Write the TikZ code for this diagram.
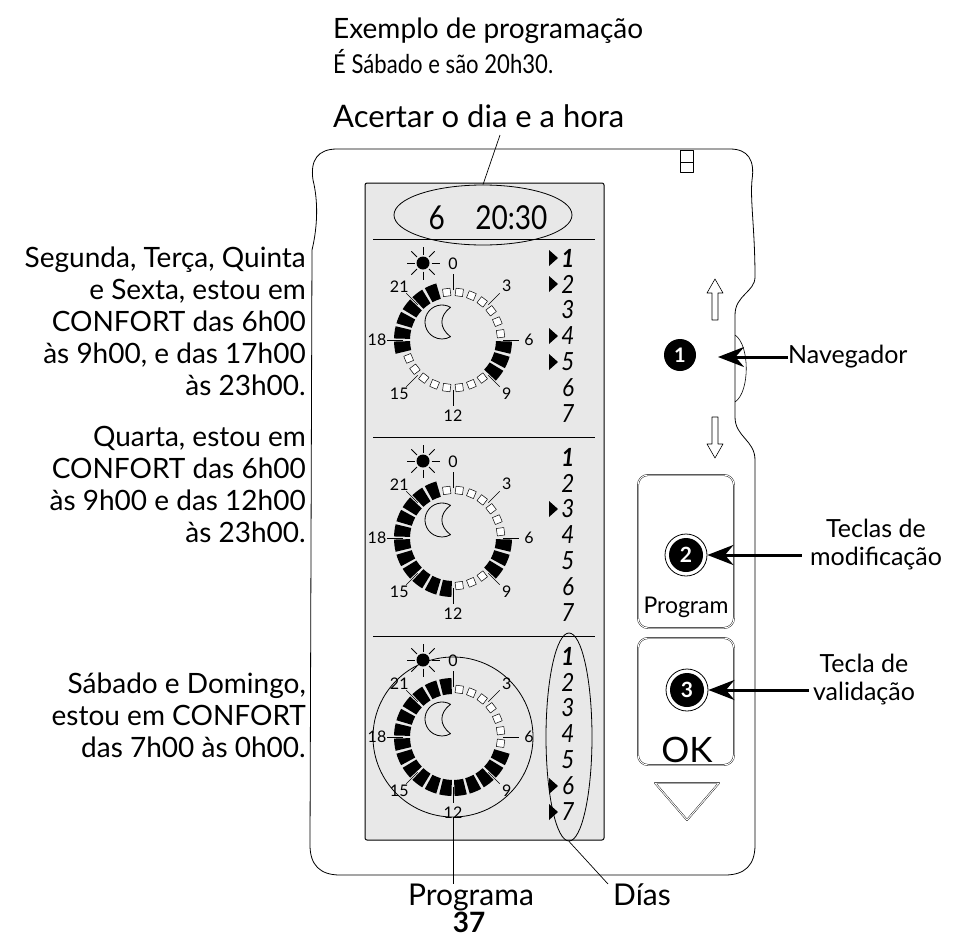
\documentclass[tikz,border=0pt]{standalone}
\usepackage{fontspec}
\setmainfont{Lato}
\usetikzlibrary{arrows.meta,shapes.geometric}
\definecolor{lcd}{HTML}{E8E8E8}
\tikzset{
  lbl/.style={font=\fontsize{28}{28}\selectfont, inner sep=0pt, anchor=base east},
  rl/.style={font=\fontsize{25}{28}\selectfont, inner sep=0pt, align=center},
  big/.style={-{Stealth[length=26pt,width=20pt]}, line width=3pt},
  num/.style={font=\fontsize{16}{16}\selectfont, inner sep=0pt},
  day/.style={font=\fontsize{25}{25}\selectfont\itshape, inner sep=0pt, xscale=0.9},
}
\newcommand\mydial[6]{%
  \begin{scope}[shift={(#2,#3)}]
  \foreach \h in {0,...,23}{
    \pgfmathsetmacro\aa{90-15*\h-1.5}
    \pgfmathsetmacro\bb{90-15*\h-13.5}
    \pgfmathsetmacro\mm{90-15*\h-7.5}
    \pgfmathtruncatemacro\on{((\h>=#4)&&(\h<#5))||((\h>=#6)&&(\h<\secondend))?1:0}
    \ifnum\on=1
      \fill (\aa:43) arc[start angle=\aa, end angle=\bb, radius=43] -- (\bb:59) arc[start angle=\bb, end angle=\aa, radius=59] -- cycle;
    \else
      \node[draw, fill=white, minimum size=7.5pt, inner sep=0pt, line width=0.5pt, rotate=\mm] at (\mm:48) {};
    \fi
  }
  \foreach \t/\l in {0/0,3/3,6/6,9/9,12/12,15/15,18/18,21/21}{
    \draw[line width=0.6pt] (90-15*\t:50) -- (90-15*\t:66);
    \node[num] at (90-15*\t:76) {\l};
  }
  \fill (-30,77) circle (6.5);
  \foreach \a in {0,45,...,315} \draw[line width=0.9pt] (-30,77) ++(\a:8.5) -- ++(\a:8);
  \begin{scope}[shift={(-11,18)}]
  \draw[line width=0.8pt] (60:17) arc[start angle=60, end angle=300, radius=17] .. controls (-3,-6) and (-3,6) .. cycle;
  \end{scope}
  \end{scope}
}
\begin{document}
\begin{tikzpicture}[x=1pt,y=1pt, line join=round]
\useasboundingbox (0,0) rectangle (959,-940);
\draw[line width=0.8pt] (337,-149) -- (730,-149) .. controls (748,-149) and (755,-160) .. (752,-180) .. controls (750,-200) and (755,-230) .. (755,-277) .. controls (755,-292) and (735,-295) .. (735,-315) -- (735,-417) .. controls (735,-437) and (755,-440) .. (755,-460) -- (755,-845) .. controls (755,-865) and (745,-875) .. (725,-875) -- (340,-875) .. controls (320,-875) and (310,-865) .. (310,-845) -- (312,-250) .. controls (318,-225) and (318,-200) .. (313,-180) .. controls (310,-160) and (318,-149) .. (337,-149) -- cycle;
\draw[line width=0.6pt] (680,-150) rectangle (693,-172) (680,-162) -- (693,-162);
\draw[fill=lcd, line width=1pt, rounded corners=2pt] (365,-183) rectangle (604,-840);
\foreach \y in {239,437,636} \draw[line width=0.8pt] (373,-\y) -- (595,-\y);
\node[draw, ellipse, minimum width=178pt, minimum height=60pt, line width=0.8pt] (clk) at (483,-215) {};
\node[font=\fontsize{33}{33}\selectfont, inner sep=0pt, xscale=0.85] (clktxt) at (488,-218) {6\hspace{36pt}20:30};
\def\secondend{23}
\mydial{d1}{453}{-340}{6}{9}{17}
\def\secondend{23}
\mydial{d2}{453}{-538}{6}{9}{12}
\def\secondend{24}
\mydial{d3}{453}{-737}{7}{24}{99}
\draw[line width=0.8pt] (453,-737) circle (80);
\foreach \base/\marks in {258/{1,2,4,5}, 457/{3}, 656/{6,7}}{
  \foreach \d in {1,...,7}{
    \ifnum\d=1
      \node[day, font=\fontsize{25}{25}\selectfont\bfseries\itshape] at (568,-\base-26*\d+26) {\d};
    \else
      \node[day] at (568,-\base-26*\d+26) {\d};
    \fi
  }
  \foreach \m in \marks \fill (549,-\base-26*\m+26+8) -- (558,-\base-26*\m+26) -- (549,-\base-26*\m+26-8) -- cycle;
}
\node[draw, ellipse, minimum width=46pt, minimum height=208pt, line width=0.8pt] (days) at (569,-737) {};
\draw[line width=0.6pt] (735,-335) .. controls (750,-345) and (750,-392) .. (735,-402);
\draw[line width=0.6pt] (712,-320) -- (712,-293) -- (707,-293) -- (715,-279) -- (723,-293) -- (718,-293) -- (718,-320) -- cycle;
\draw[line width=0.6pt] (712,-417) -- (712,-444) -- (707,-444) -- (715,-458) -- (723,-444) -- (718,-444) -- (718,-417) -- cycle;
\node[circle, fill=black, minimum size=32pt, inner sep=0pt, text=white, font=\fontsize{20}{20}\selectfont\bfseries] (n1) at (680,-355) {1};
\draw[double, double distance=1pt, rounded corners=10pt] (638,-475) rectangle (734,-628);
\draw[double, double distance=1pt, rounded corners=10pt] (638,-638) rectangle (734,-765);
\node[circle, draw, line width=0.8pt, fill=white, minimum size=42pt, inner sep=0pt] (n2o) at (686,-555) {};
\node[circle, fill=black, minimum size=34pt, inner sep=0pt, text=white, font=\fontsize{21}{21}\selectfont\bfseries] (n2) at (686,-555) {2};
\node[circle, draw, line width=0.8pt, fill=white, minimum size=42pt, inner sep=0pt] (n3o) at (687,-690) {};
\node[circle, fill=black, minimum size=34pt, inner sep=0pt, text=white, font=\fontsize{21}{21}\selectfont\bfseries] (n3) at (687,-690) {3};
\node[font=\fontsize{23}{23}\selectfont, inner sep=0pt] (prg) at (686,-607) {Program};
\node[font=\fontsize{35}{35}\selectfont, inner sep=0pt] (ok) at (687,-750) {OK};
\draw[double, double distance=1pt] (655,-783) -- (719,-783) -- (687,-820) -- cycle;
\node[rl, anchor=west] (nav) at (788,-357) {Navegador};
\node[rl] (tm) at (876,-545) {Teclas de\\modificação};
\node[rl] (tv) at (864,-680) {Tecla de\\validação};
\draw[big] (nav.west) -- (718,-357);
\draw[big] (tm.west |- n2) ++(-8,0) coordinate (a2) -- (n2o.east);
\draw[big] (tv.west |- n3) ++(-4,0) coordinate (a3) -- (n3o.east);
\node[font=\fontsize{28}{28}\selectfont, inner sep=0pt, anchor=base west] (t1) at (333,-38) {Exemplo de programação};
\node[font=\fontsize{26}{26}\selectfont, inner sep=0pt, anchor=base west, xscale=0.85] (t2) at (333,-73) {É Sábado e são 20h30.};
\node[font=\fontsize{31}{31}\selectfont, inner sep=0pt, anchor=base west] (t3) at (333,-127) {Acertar o dia e a hora};
\draw[line width=0.7pt] (500,-135) -- (clk.north);
\foreach \y/\t in {267/{Segunda, Terça, Quinta},299/{e Sexta, estou em},331/{CONFORT das 6h00},363/{às 9h00, e das 17h00},395/{às 23h00.},
  446/{Quarta, estou em},478/{CONFORT das 6h00},510/{às 9h00 e das 12h00},542/{às 23h00.},
  693/{Sábado e Domingo,},725/{estou em CONFORT},757/{das 7h00 às 0h00.}}
  \node[lbl] at (306,-\y) {\t};
\node[font=\fontsize{30}{30}\selectfont, inner sep=0pt, anchor=base] (pg) at (471,-905) {Programa};
\node[font=\fontsize{30}{30}\selectfont, inner sep=0pt, anchor=base] (dias) at (642,-905) {Días};
\draw[line width=0.7pt] (453,-817) -- (453,-884);
\draw[line width=0.7pt] (days.south) -- (608,-884);
\node[font=\fontsize{28}{28}\selectfont\bfseries, inner sep=0pt, anchor=base] (p37) at (469,-932) {37};
\end{tikzpicture}
\end{document}
